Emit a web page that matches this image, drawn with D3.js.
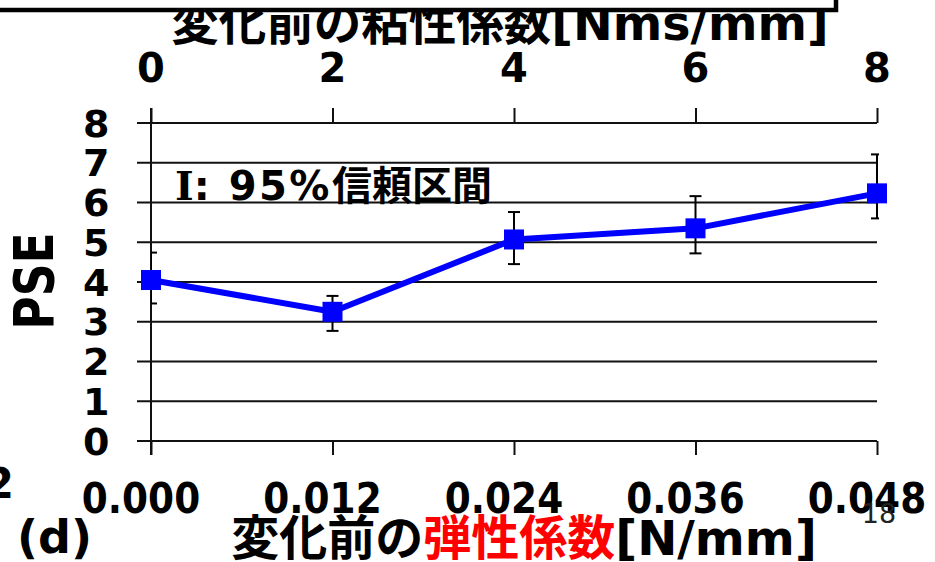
<!DOCTYPE html>
<html>
<head>
<meta charset="utf-8">
<script src="https://cdn.jsdelivr.net/npm/d3@7/dist/d3.min.js"></script>
<style>
  html, body { margin: 0; padding: 0; background: #fff; }
  svg { display: block; }
  text { font-family: "DejaVu Sans", "Noto Sans CJK JP", sans-serif; font-weight: bold; fill: #000; }
</style>
</head>
<body>
<svg id="chart" width="935" height="562"></svg>
<script>
// Elastic coefficient before change [N/mm] (bottom axis)
const stiffness = [0.000, 0.012, 0.024, 0.036, 0.048];
// Matching viscosity before change [Nms/mm] (top axis)
const viscosity = [0, 2, 4, 6, 8];
// Point of subjective equality and its 95% confidence interval
const pse   = [4.05, 3.25, 5.07, 5.35, 6.23];
const ciLow = [3.46, 2.77, 4.45, 4.72, 5.60];
const ciHigh= [4.74, 3.65, 5.76, 6.16, 7.21];
const yTicks = [0, 1, 2, 3, 4, 5, 6, 7, 8];
const bottomTickLabels = ["0.000", "0.012", "0.024", "0.036", "0.048"];

const svg = d3.select("#chart");

const x = d3.scaleLinear().domain([0, 0.048]).range([151, 877]);
const xTop = d3.scaleLinear().domain([0, 8]).range([151, 877]);
const y = d3.scaleLinear().domain([0, 8]).range([441, 123]);

// top title (partly hidden under the frame drawn later)
svg.append("text")
  .attr("x", 500).attr("y", 40)
  .attr("text-anchor", "middle")
  .style("font-size", "47.5px")
  .text("変化前の粘性係数[Nms/mm]");

// horizontal grid lines, extending left as outer ticks
svg.append("g")
  .selectAll("line")
  .data(yTicks)
  .join("line")
  .attr("x1", 137).attr("x2", x.range()[1])
  .attr("y1", d => y(d)).attr("y2", d => y(d))
  .attr("stroke", "#111").attr("stroke-width", 2);

// left axis line, reaching out to the top and bottom ticks
svg.append("line")
  .attr("x1", x.range()[0]).attr("x2", x.range()[0])
  .attr("y1", y(8) - 15).attr("y2", y(0) + 14)
  .attr("stroke", "#111").attr("stroke-width", 2);

// bottom axis ticks
const bottomAxis = svg.append("g")
  .attr("transform", `translate(0,${y(0)})`)
  .call(d3.axisBottom(x).tickValues(stiffness).tickSizeInner(14).tickSizeOuter(0).tickFormat(""));
bottomAxis.select(".domain").remove();
bottomAxis.selectAll("line").attr("stroke", "#111").attr("stroke-width", 2);

// top axis ticks
const topAxis = svg.append("g")
  .attr("transform", `translate(0,${y(8)})`)
  .call(d3.axisTop(xTop).tickValues(viscosity).tickSizeInner(15).tickSizeOuter(0).tickFormat(""));
topAxis.select(".domain").remove();
topAxis.selectAll("line").attr("stroke", "#111").attr("stroke-width", 2);

// top axis labels
svg.append("g")
  .selectAll("text")
  .data(viscosity)
  .join("text")
  .attr("x", d => xTop(d)).attr("y", 82)
  .attr("text-anchor", "middle")
  .style("font-size", "40px")
  .text(d => d);

// bottom axis labels (narrowed)
svg.append("g")
  .selectAll("text")
  .data(stiffness)
  .join("text")
  .attr("transform", (d, i) => `translate(${x(d) - 10},513) scale(0.87,1)`)
  .attr("text-anchor", "middle")
  .style("font-size", "43px")
  .text((d, i) => bottomTickLabels[i]);

// left axis labels
svg.append("g")
  .selectAll("text")
  .data(yTicks)
  .join("text")
  .attr("x", 110).attr("y", d => y(d))
  .attr("dy", "0.36em")
  .attr("text-anchor", "end")
  .style("font-size", "38px")
  .style("letter-spacing", "0.5px")
  .text(d => d);

// y axis title
svg.append("text")
  .attr("transform", "translate(33,281) rotate(-90) scale(0.83,1)")
  .attr("text-anchor", "middle")
  .attr("dy", "0.36em")
  .style("font-size", "55px")
  .text("PSE");

// legend note for the error bars
const note = svg.append("text")
  .attr("x", 175).attr("y", 200)
  .style("font-size", "40px");
note.append("tspan").style("font-family", "'DejaVu Serif', serif").text("I");
note.append("tspan").style("letter-spacing", "2.5px").text(": 95%");
note.append("tspan").attr("dx", 0).text("信頼区間");

// error bars, clipped at the plot's side edges
svg.append("clipPath").attr("id", "plotClip")
  .append("rect")
  .attr("x", x.range()[0]).attr("y", 0)
  .attr("width", x.range()[1] - x.range()[0] + 2).attr("height", 562);

const bars = svg.append("g").attr("clip-path", "url(#plotClip)")
  .attr("stroke", "#000").attr("stroke-width", 2);
const capHalf = 6;
bars.selectAll("line.v").data(stiffness).join("line").attr("class", "v")
  .attr("x1", d => x(d)).attr("x2", d => x(d))
  .attr("y1", (d, i) => y(ciLow[i])).attr("y2", (d, i) => y(ciHigh[i]));
bars.selectAll("line.hi").data(stiffness).join("line").attr("class", "hi")
  .attr("x1", d => x(d) - capHalf).attr("x2", d => x(d) + capHalf)
  .attr("y1", (d, i) => y(ciHigh[i])).attr("y2", (d, i) => y(ciHigh[i]));
bars.selectAll("line.lo").data(stiffness).join("line").attr("class", "lo")
  .attr("x1", d => x(d) - capHalf).attr("x2", d => x(d) + capHalf)
  .attr("y1", (d, i) => y(ciLow[i])).attr("y2", (d, i) => y(ciLow[i]));

// PSE line with square markers
const pts = stiffness.map((s, i) => [s, pse[i]]);
svg.append("path")
  .datum(pts)
  .attr("fill", "none")
  .attr("stroke", "#0000ff")
  .attr("stroke-width", 6)
  .attr("stroke-linejoin", "round")
  .attr("d", d3.line().x(d => x(d[0])).y(d => y(d[1])));

const mk = 20;
svg.append("g")
  .selectAll("rect")
  .data(pts)
  .join("rect")
  .attr("x", d => x(d[0]) - mk / 2).attr("y", d => y(d[1]) - mk / 2)
  .attr("width", mk).attr("height", mk)
  .attr("fill", "#0000ff");

// bottom axis title with the highlighted term
const xt = svg.append("text")
  .attr("x", 524).attr("y", 555)
  .attr("text-anchor", "middle")
  .style("font-size", "48px");
xt.append("tspan").text("変化前の");
xt.append("tspan").style("fill", "#ff0000").text("弾性係数");
xt.append("tspan").text("[N/mm]");

// panel letter
svg.append("text")
  .attr("x", 17).attr("y", 553)
  .style("font-size", "46px")
  .text("(d)");

// stray label at the left edge
svg.append("text")
  .attr("x", 14).attr("y", 498)
  .attr("text-anchor", "end")
  .style("font-size", "42px")
  .text("2");

// page number
svg.append("text")
  .attr("x", 879).attr("y", 523)
  .attr("text-anchor", "middle")
  .style("font-size", "27px")
  .style("font-weight", "normal")
  .style("fill", "#222")
  .text("18");

// frame at the top edge
svg.append("rect")
  .attr("x", -10).attr("y", -60)
  .attr("width", 846).attr("height", 70)
  .attr("fill", "#fff")
  .attr("stroke", "#000")
  .attr("stroke-width", 4.5);
</script>
</body>
</html>
